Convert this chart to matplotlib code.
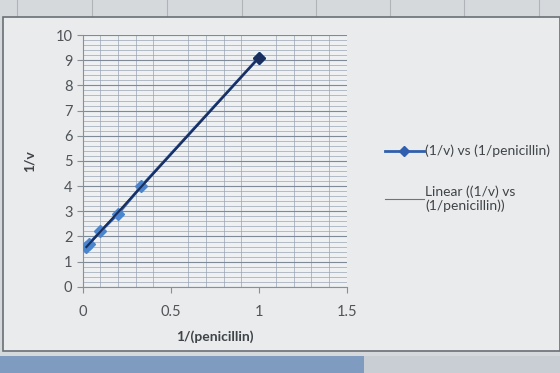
import matplotlib.pyplot as plt
from matplotlib.patches import Rectangle
from matplotlib.lines import Line2D
import numpy as np

# reciprocal data
inv_pen = [0.02, 0.033, 0.1, 0.2, 0.333, 1.0]
inv_v = [1.6, 1.7, 2.2, 2.9, 4.0, 9.1]

plt.rcParams['font.family'] = ['Lato', 'DejaVu Sans']

fig = plt.figure(figsize=(5.6, 3.73), dpi=100)
fig.patch.set_facecolor('#d6d9dc')

# spreadsheet cell lines above the chart
for cx in [17, 92, 167, 242, 316, 390, 464, 539]:
    fig.add_artist(Line2D([cx / 560, cx / 560], [0.955, 1.0], color='#b0b4b8', lw=0.8, zorder=-11))

# chart area box and the taskbar strip of the screen photo
fig.patches.append(Rectangle((0.006, 0.058), 0.994, 0.897, transform=fig.transFigure,
                             facecolor='#e9ebec', edgecolor='#6a6f76', lw=1.2, zorder=-10))
fig.patches.append(Rectangle((0.0, 0.0), 0.65, 0.045, transform=fig.transFigure,
                             facecolor='#7f9cc0', edgecolor='none', zorder=-10))
fig.patches.append(Rectangle((0.65, 0.0), 0.35, 0.045, transform=fig.transFigure,
                             facecolor='#c9ced4', edgecolor='none', zorder=-10))

ax = fig.add_axes([0.148, 0.231, 0.471, 0.675])
ax.set_facecolor('#eef0f1')

ax.set_xlim(0, 1.5)
ax.set_ylim(0, 10)
ax.set_xticks([0, 0.5, 1, 1.5])
ax.set_xticklabels(['0', '0.5', '1', '1.5'])
ax.set_yticks(range(0, 11))
ax.set_xticks(np.arange(0, 1.51, 0.1), minor=True)
ax.set_yticks(np.arange(0, 10.01, 0.2), minor=True)
ax.grid(which='minor', color='#9aa6b4', lw=0.5)
ax.grid(which='major', axis='y', color='#7f8a98', lw=0.8)
ax.set_axisbelow(True)

for s in ['top', 'right']:
    ax.spines[s].set_visible(False)
ax.spines['left'].set_color('#8a8f96')
ax.spines['bottom'].set_color('#8a8f96')
ax.tick_params(which='minor', length=0)
ax.tick_params(which='major', length=4, color='#8a8f96', labelsize=10.5, labelcolor='#505458')
ax.tick_params(axis='x', pad=9)

# series
ax.plot(inv_pen, inv_v, color='#2f5fae', lw=2, marker='D', markersize=6,
        markerfacecolor='#4a86d0', markeredgecolor='#4a86d0', zorder=3)

# linear trendline
k, b = np.polyfit(inv_pen, inv_v, 1)
xs = np.array([min(inv_pen), max(inv_pen)])
ax.plot(xs, k * xs + b, color='#1b2f5e', lw=1.6, zorder=4)
ax.plot(inv_pen[-1], inv_v[-1], 'D', color='#1b2f5e', markersize=6, zorder=5)

ax.set_xlabel('1/(penicillin)', fontsize=10, fontweight='bold', color='#404448', labelpad=8)
ax.set_ylabel('1/v', fontsize=10, fontweight='bold', color='#404448', labelpad=14)

handles = [Line2D([], [], color='#2f5fae', lw=2, marker='D', markersize=5,
                  markerfacecolor='#2f5fae'),
           Line2D([], [], color='#707478', lw=0.8)]
labels = ['(1/v) vs (1/penicillin)', 'Linear ((1/v) vs\n(1/penicillin))']
fig.legend(handles, labels, loc='upper left', bbox_to_anchor=(0.665, 0.645),
           frameon=False, fontsize=10, labelcolor='#404448', labelspacing=2.0,
           handlelength=2.8, handletextpad=0.1)

fig.savefig('out.png', dpi=100, facecolor=fig.get_facecolor())
